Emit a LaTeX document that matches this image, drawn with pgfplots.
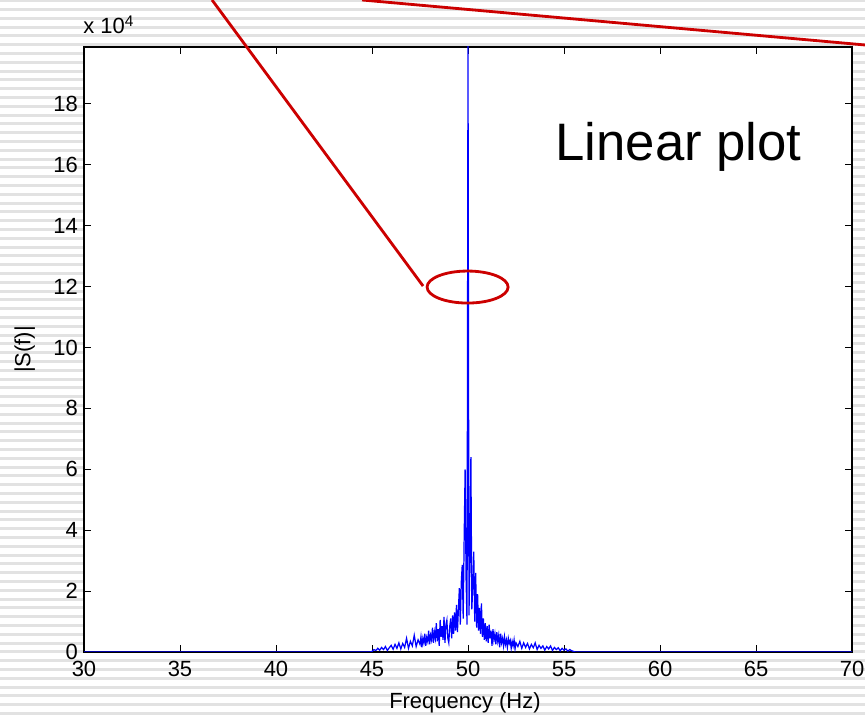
\documentclass[border=0pt]{standalone}
\usepackage{fontspec}
\setmainfont{Liberation Sans}
\usepackage{pgfplots}
\pgfplotsset{compat=1.18}
\usepackage{pgfplotstable}
\definecolor{annot}{RGB}{204,0,0}
\definecolor{stripe}{RGB}{226,226,226}

% |S(f)| in units of 10^4
\pgfplotstableread{
f s
30.0 0
44.9 0
45.0 0.02
45.1 0.08
45.2 0.05
45.3 0.12
45.4 0.06
45.5 0.15
45.6 0.08
45.7 0.18
45.8 0.05
45.9 0.14
46.0 0.22
46.1 0.09
46.2 0.25
46.3 0.12
46.4 0.30
46.5 0.10
46.6 0.28
46.7 0.15
46.8 0.45
46.9 0.12
47.0 0.35
47.1 0.20
47.2 0.55
47.3 0.18
47.4 0.40
47.50 0.25
47.55 0.50
47.60 0.15
47.65 0.45
47.70 0.30
47.75 0.60
47.80 0.20
47.85 0.48
47.90 0.35
47.95 0.70
48.00 0.25
48.05 0.55
48.10 0.40
48.15 0.80
48.20 0.30
48.25 0.65
48.30 0.45
48.35 0.95
48.40 0.35
48.45 0.75
48.50 0.20
48.55 1.05
48.60 0.50
48.65 0.85
48.70 0.40
48.75 1.15
48.80 0.30
48.85 0.90
48.90 1.05
48.95 0.45
49.00 0.30
49.05 0.85
49.10 1.10
49.15 0.45
49.20 1.20
49.25 0.60
49.30 1.30
49.35 0.70
49.40 1.55
49.45 0.65
49.50 1.40
49.55 2.10
49.60 0.90
49.65 2.30
49.70 2.86
49.75 1.10
49.80 3.75
49.85 6.00
49.90 2.40
49.95 0.90
50.00 19.90
50.05 1.20
50.10 3.00
50.15 6.40
50.20 1.40
50.25 2.20
50.30 3.30
50.35 1.00
50.40 2.60
50.45 0.80
50.50 1.90
50.55 0.70
50.60 1.45
50.65 0.60
50.70 1.60
50.75 0.50
50.80 1.10
50.85 0.40
50.90 0.95
50.95 0.35
51.00 0.85
51.05 0.30
51.10 0.90
51.15 0.45
51.20 0.70
51.25 0.20
51.30 0.75
51.35 0.40
51.40 0.60
51.45 0.25
51.50 0.65
51.55 0.35
51.60 0.55
51.65 0.15
51.70 0.60
51.75 0.30
51.80 0.45
51.85 0.20
51.90 0.50
51.95 0.25
52.00 0.40
52.05 0.15
52.10 0.45
52.15 0.28
52.20 0.38
52.25 0.12
52.30 0.35
52.35 0.20
52.40 0.40
52.45 0.10
52.5 0.30
52.6 0.18
52.7 0.35
52.8 0.12
52.9 0.30
53.0 0.15
53.1 0.28
53.2 0.10
53.3 0.25
53.4 0.14
53.5 0.30
53.6 0.08
53.7 0.22
53.8 0.12
53.9 0.20
54.0 0.06
54.1 0.18
54.2 0.10
54.3 0.20
54.4 0.05
54.5 0.15
54.6 0.08
54.7 0.14
54.8 0.04
54.9 0.12
55.0 0.06
55.1 0.10
55.2 0.03
55.3 0.08
55.4 0.04
55.5 0.02
55.6 0
70.0 0
}\spectrum

\begin{document}
\begin{tikzpicture}
\useasboundingbox (0,0) rectangle (17.3,14.3);
\fill[white] (0,0) rectangle (17.3,14.3);
\foreach \k in {0,...,81}
  \fill[stripe] (0,{\k*0.176}) rectangle (17.3,{\k*0.176+0.06});

\begin{axis}[
  at={(1.68cm,1.26cm)}, anchor=south west,
  scale only axis, width=15.36cm, height=12.1cm,
  xmin=30, xmax=70, ymin=0, ymax=19.87,
  xtick={30,35,...,70}, ytick={0,2,...,18},
  tick align=inside, major tick length=0.14cm,
  axis line style={line width=0.7pt},
  every tick/.style={black, line width=0.5pt},
  axis background/.style={fill=white},
  /pgf/number format/assume math mode=true,
  tick label style={font=\fontsize{12.5}{15}\selectfont},
  xticklabel style={yshift=-0.06cm},
  label style={font=\fontsize{12.5}{15}\selectfont},
  xlabel={Frequency (Hz)},
  xlabel style={at={(axis description cs:0.496,-0.084)}, anchor=center},
  ylabel={|S(f)|},
  ylabel style={at={(axis description cs:-0.077,0.5)}, anchor=center},
]
\addplot[blue, line width=0.7pt] table[x=f, y=s] {\spectrum};
\end{axis}

\begin{scope}[x=0.02cm, y=-0.02cm, yshift=14.3cm]
  \node[anchor=base west, inner sep=0, font=\fontsize{12.5}{15}\selectfont]
    at (83,34) {x 10\textsuperscript{4}};
  \node[anchor=base west, inner sep=0, font=\fontsize{30}{36}\selectfont]
    at (555,160) {Linear plot};
  \draw[annot, line width=1.6pt] (212,0) -- (423,286);
  \draw[annot, line width=1.6pt] (362,0) -- (865,45);
  \draw[annot, line width=1.6pt] (467.5,287) ellipse [x radius=40.5, y radius=16];
\end{scope}
\end{tikzpicture}
\end{document}
